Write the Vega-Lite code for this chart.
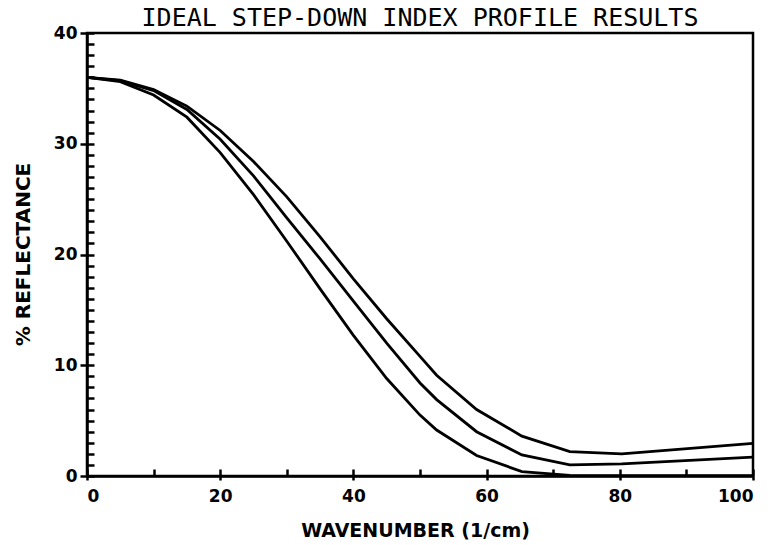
{
  "$schema": "https://vega.github.io/schema/vega-lite/v6.json",
  "width": 666,
  "height": 443,
  "autosize": {"type": "none"},
  "padding": {"left": 87, "top": 33, "right": 21, "bottom": 69},
  "background": "white",
  "title": {
    "text": "IDEAL STEP-DOWN INDEX PROFILE RESULTS",
    "font": "DejaVu Sans Mono",
    "fontSize": 25,
    "fontWeight": "normal",
    "color": "black",
    "anchor": "middle",
    "frame": "group",
    "offset": 6,
    "dy": 13
  },
  "data": {
    "values": [
      {"k": 0, "r": 36, "s": "upper"},
      {"k": 5, "r": 35.75, "s": "upper"},
      {"k": 10, "r": 34.9, "s": "upper"},
      {"k": 15, "r": 33.4, "s": "upper"},
      {"k": 20, "r": 31.2, "s": "upper"},
      {"k": 25, "r": 28.4, "s": "upper"},
      {"k": 30, "r": 25.2, "s": "upper"},
      {"k": 35, "r": 21.6, "s": "upper"},
      {"k": 40, "r": 17.8, "s": "upper"},
      {"k": 45, "r": 14.2, "s": "upper"},
      {"k": 50, "r": 10.8, "s": "upper"},
      {"k": 52.5, "r": 9.1, "s": "upper"},
      {"k": 58.5, "r": 6.0, "s": "upper"},
      {"k": 65.3, "r": 3.6, "s": "upper"},
      {"k": 72.5, "r": 2.2, "s": "upper"},
      {"k": 80.3, "r": 2.0, "s": "upper"},
      {"k": 100, "r": 2.95, "s": "upper"},
      {"k": 0, "r": 36, "s": "middle"},
      {"k": 5, "r": 35.7, "s": "middle"},
      {"k": 10, "r": 34.8, "s": "middle"},
      {"k": 15, "r": 33.1, "s": "middle"},
      {"k": 20, "r": 30.4, "s": "middle"},
      {"k": 25, "r": 27.1, "s": "middle"},
      {"k": 30, "r": 23.3, "s": "middle"},
      {"k": 35, "r": 19.6, "s": "middle"},
      {"k": 40, "r": 15.8, "s": "middle"},
      {"k": 45, "r": 12.0, "s": "middle"},
      {"k": 50, "r": 8.4, "s": "middle"},
      {"k": 52.5, "r": 6.9, "s": "middle"},
      {"k": 58.5, "r": 4.0, "s": "middle"},
      {"k": 65.3, "r": 1.9, "s": "middle"},
      {"k": 72.5, "r": 1.0, "s": "middle"},
      {"k": 80.3, "r": 1.1, "s": "middle"},
      {"k": 100, "r": 1.7, "s": "middle"},
      {"k": 0, "r": 36, "s": "lower"},
      {"k": 5, "r": 35.6, "s": "lower"},
      {"k": 10, "r": 34.4, "s": "lower"},
      {"k": 15, "r": 32.4, "s": "lower"},
      {"k": 20, "r": 29.2, "s": "lower"},
      {"k": 25, "r": 25.4, "s": "lower"},
      {"k": 30, "r": 21.2, "s": "lower"},
      {"k": 35, "r": 16.9, "s": "lower"},
      {"k": 40, "r": 12.7, "s": "lower"},
      {"k": 45, "r": 8.8, "s": "lower"},
      {"k": 50, "r": 5.5, "s": "lower"},
      {"k": 52.5, "r": 4.15, "s": "lower"},
      {"k": 58.5, "r": 1.85, "s": "lower"},
      {"k": 65.3, "r": 0.4, "s": "lower"},
      {"k": 72.5, "r": 0.05, "s": "lower"},
      {"k": 80.3, "r": 0.03, "s": "lower"},
      {"k": 100, "r": 0.03, "s": "lower"}
    ]
  },
  "layer": [
    {
      "mark": {"type": "line", "color": "black", "strokeWidth": 2.8, "clip": true},
      "encoding": {
        "x": {
          "field": "k", "type": "quantitative",
          "scale": {"domain": [0, 100], "nice": false, "zero": false},
          "axis": {
            "orient": "bottom",
            "values": [0, 20, 40, 60, 80, 100],
            "tickSize": 4,
            "labelPadding": 8,
            "title": "WAVENUMBER  (1/cm)",
            "titleX": 328,
            "titleY": 54,
            "titleBaseline": "middle",
            "titleAlign": "center",
            "titleFont": "DejaVu Sans",
            "titleFontSize": 19,
            "titleFontWeight": "bold"
          }
        },
        "y": {
          "field": "r", "type": "quantitative",
          "scale": {"domain": [0, 40], "nice": false},
          "axis": {
            "orient": "left",
            "values": [0, 10, 20, 30, 40],
            "tickSize": 7,
            "labelPadding": 3,
            "title": "% REFLECTANCE",
            "titleX": -64,
            "titleY": 221,
            "titleAngle": 270,
            "titleBaseline": "middle",
            "titleAlign": "center",
            "titleFont": "DejaVu Sans",
            "titleFontSize": 20,
            "titleFontWeight": "bold"
          }
        },
        "detail": {"field": "s", "type": "nominal"}
      }
    },
    {
      "mark": {"type": "line", "color": "black", "strokeOpacity": 0},
      "encoding": {
        "x": {
          "field": "k", "type": "quantitative",
          "axis": {
            "orient": "bottom",
            "values": [0, 10, 20, 30, 40, 50, 60, 70, 80, 90, 100],
            "tickSize": -7,
            "labels": false,
            "domain": false,
            "title": null
          }
        },
        "y": {
          "field": "r", "type": "quantitative",
          "axis": {
            "orient": "left",
            "values": [0, 1, 2, 3, 4, 5, 6, 7, 8, 9, 10, 11, 12, 13, 14, 15, 16, 17, 18, 19, 20, 21, 22, 23, 24, 25, 26, 27, 28, 29, 30, 31, 32, 33, 34, 35, 36, 37, 38, 39, 40],
            "tickSize": -7,
            "labels": false,
            "domain": false,
            "title": null
          }
        },
        "detail": {"field": "s", "type": "nominal"}
      }
    }
  ],
  "resolve": {"axis": {"x": "independent", "y": "independent"}},
  "config": {
    "view": {"stroke": "black", "strokeWidth": 2.5},
    "axis": {
      "grid": false,
      "domainColor": "black",
      "domainWidth": 2.5,
      "tickColor": "black",
      "tickWidth": 2.5,
      "labelColor": "black",
      "titleColor": "black",
      "labelFont": "DejaVu Sans",
      "labelFontSize": 17,
      "labelFontWeight": "bold"
    }
  }
}
